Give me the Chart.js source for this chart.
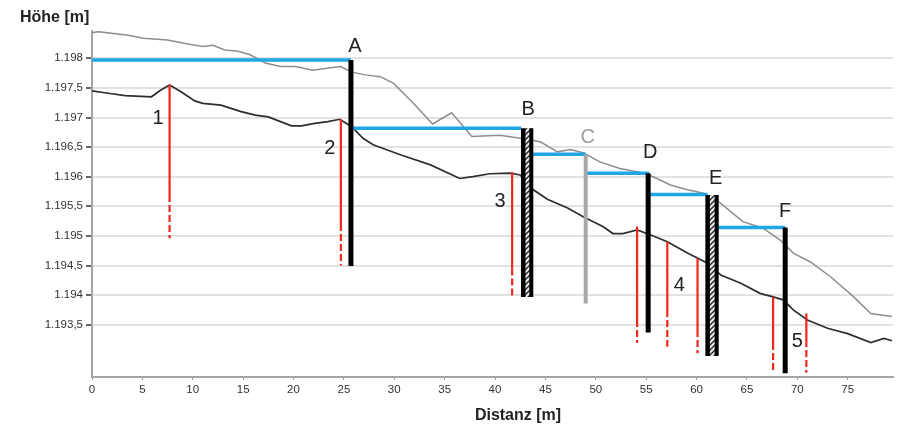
<!DOCTYPE html>
<html>
<head>
<meta charset="utf-8">
<script src="https://cdn.jsdelivr.net/npm/chart.js@4.4.1/dist/chart.umd.min.js"></script>
<style>
  body { margin: 0; background: #fff; }
  #wrap { width: 899px; height: 428px; }
</style>
</head>
<body>
<div id="wrap"><canvas id="profil" width="899" height="428"></canvas></div>
<script>
// Gelaendeoberflaeche (grau)
const greyX = [0, 0.6, 3.6, 5.1, 7.5, 9.5, 11.0, 12.0, 13.2, 14.5, 15.7, 17.2, 18.7, 20.2, 21.9, 23.7, 24.7, 25.7, 27.1, 28.6, 29.9, 31.9, 33.8, 35.7, 37.7, 40.5, 42.5, 44.5, 46.2, 47.5, 48.8, 50.4, 52.4, 54.4, 55.7, 57.4, 59.1, 60.7, 62.4, 64.6, 66.6, 68.3, 69.6, 71.3, 73.3, 75.6, 77.3, 79.4];
const greyH = [1198.43, 1198.45, 1198.39, 1198.34, 1198.31, 1198.24, 1198.20, 1198.22, 1198.14, 1198.12, 1198.06, 1197.92, 1197.86, 1197.86, 1197.80, 1197.84, 1197.86, 1197.77, 1197.72, 1197.69, 1197.58, 1197.24, 1196.89, 1197.08, 1196.68, 1196.70, 1196.65, 1196.59, 1196.42, 1196.46, 1196.40, 1196.25, 1196.14, 1196.07, 1196.00, 1195.86, 1195.78, 1195.72, 1195.55, 1195.24, 1195.13, 1194.93, 1194.71, 1194.56, 1194.31, 1193.97, 1193.69, 1193.64];

// Sohle (dunkel)
const darkX = [0, 1.6, 3.3, 5.9, 6.8, 7.7, 8.8, 10.2, 11.0, 12.8, 14.8, 16.2, 17.5, 19.8, 20.8, 22.1, 23.4, 24.6, 25.8, 26.9, 27.9, 30.6, 33.6, 36.5, 37.8, 39.5, 41.5, 42.5, 43.8, 45.2, 47.2, 48.8, 50.7, 51.7, 52.7, 54.1, 55.4, 57.1, 59.1, 61.1, 62.4, 64.4, 66.3, 67.6, 68.6, 69.6, 71.0, 73.0, 75.0, 77.3, 78.6, 79.4];
const darkH = [1197.45, 1197.41, 1197.37, 1197.35, 1197.46, 1197.55, 1197.44, 1197.28, 1197.24, 1197.21, 1197.10, 1197.04, 1197.01, 1196.86, 1196.86, 1196.90, 1196.93, 1196.97, 1196.84, 1196.65, 1196.54, 1196.37, 1196.20, 1195.97, 1196.00, 1196.05, 1196.06, 1196.03, 1195.78, 1195.62, 1195.47, 1195.32, 1195.16, 1195.04, 1195.04, 1195.10, 1195.02, 1194.90, 1194.71, 1194.54, 1194.34, 1194.20, 1194.03, 1193.97, 1193.92, 1193.75, 1193.58, 1193.44, 1193.35, 1193.20, 1193.27, 1193.23];

// Wasserspiegel (blau)
const blueX1 = [0, 25.8, 43.7, 49.0, 55.4, 62.0];
const blueX2 = [25.7, 42.6, 49.0, 55.3, 61.1, 68.8];
const blueH = [1197.97, 1196.82, 1196.38, 1196.06, 1195.70, 1195.14];

// Schwellen A, D, F
const barX = [25.7, 55.2, 68.8];
const barTop = [1197.97, 1196.06, 1195.14];
const barBottom = [1194.49, 1193.37, 1192.68];

// Schwellen B, E (schraffiert)
const hatchX1 = [42.8, 61.1];
const hatchX2 = [43.6, 62.0];
const hatchTop = [1196.82, 1195.69];
const hatchBottom = [1193.97, 1192.97];

// Schwelle C (grau)
const greyBarX = [49.0];
const greyBarTop = [1196.38];
const greyBarBottom = [1193.86];

// Kolke (rot)
const redX = [7.7, 24.7, 41.7, 54.1, 57.1, 60.1, 67.6, 70.9];
const redTop = [1197.55, 1196.97, 1196.08, 1195.16, 1194.90, 1194.62, 1193.97, 1193.69];
const redMid = [1195.69, 1195.20, 1194.45, 1193.58, 1193.75, 1193.41, 1193.19, 1193.24];
const redBottom = [1194.96, 1194.50, 1193.99, 1193.19, 1193.13, 1193.02, 1192.69, 1192.69];

// Beschriftungen
const labelText = ['1', '2', '3', '4', '5', 'A', 'B', 'C', 'D', 'E', 'F'];
const labelX = [6.55, 23.6, 40.5, 58.3, 70.0, 26.1, 43.3, 49.2, 55.4, 61.9, 68.8];
const labelY = [1196.99, 1196.47, 1195.58, 1194.17, 1193.21, 1198.2, 1197.13, 1196.67, 1196.41, 1195.97, 1195.41];
const labelGrey = ['C'];

const yTicks = [1193.5, 1194, 1194.5, 1195, 1195.5, 1196, 1196.5, 1197, 1197.5, 1198];
const xTicks = [0, 5, 10, 15, 20, 25, 30, 35, 40, 45, 50, 55, 60, 65, 70, 75];

function fmtDe(v) {
  const s = v.toFixed(1).split('.');
  const i = s[0].slice(0, s[0].length - 3) + '.' + s[0].slice(-3);
  return s[1] === '0' ? i : i + ',' + s[1];
}

// Schraffur
const pc = document.createElement('canvas');
pc.width = 5; pc.height = 5;
const pctx = pc.getContext('2d');
pctx.fillStyle = '#e6e6e6';
pctx.fillRect(0, 0, 5, 5);
pctx.strokeStyle = '#222';
pctx.lineWidth = 1.3;
pctx.beginPath();
pctx.moveTo(-1, 6); pctx.lineTo(6, -1);
pctx.moveTo(-1, 1); pctx.lineTo(1, -1);
pctx.moveTo(4, 6); pctx.lineTo(6, 4);
pctx.stroke();
const hatch = pctx.createPattern(pc, 'repeat');

function seg(data, color, width, dash) {
  return {
    data: data, showLine: true, borderColor: color, borderWidth: width,
    borderDash: dash || [], pointRadius: 0, fill: false, tension: 0
  };
}

const ds = [];
ds.push(seg(greyX.map((x, i) => ({x: x, y: greyH[i]})), '#8e8e8e', 1.5));
ds.push(seg(darkX.map((x, i) => ({x: x, y: darkH[i]})), '#2e2e2e', 1.7));
redX.forEach((x, i) => {
  ds.push(seg([{x: x, y: redTop[i]}, {x: x, y: redMid[i]}], '#f2261b', 2.2));
  ds.push(seg([{x: x, y: redMid[i]}, {x: x, y: redBottom[i]}], '#f2261b', 2.2, [7, 3]));
});
blueH.forEach((h, i) => {
  ds.push(seg([{x: blueX1[i], y: h}, {x: blueX2[i], y: h}], '#1ea7e4', 3.5));
});
greyBarX.forEach((x, i) => {
  ds.push(seg([{x: x, y: greyBarTop[i]}, {x: x, y: greyBarBottom[i]}], '#a8a8a8', 4));
});
hatchX1.forEach((x1, i) => {
  const x2 = hatchX2[i];
  ds.push({
    data: [{x: x1, y: hatchBottom[i]}, {x: x1, y: hatchTop[i]}, {x: x2, y: hatchTop[i]}, {x: x2, y: hatchBottom[i]}, {x: x1, y: hatchBottom[i]}],
    showLine: true, borderWidth: 0, borderColor: 'rgba(0,0,0,0)', backgroundColor: hatch,
    fill: 'shape', pointRadius: 0, tension: 0
  });
  ds.push(seg([{x: x1, y: hatchTop[i]}, {x: x1, y: hatchBottom[i]}], '#000', 4.5));
  ds.push(seg([{x: x2, y: hatchTop[i]}, {x: x2, y: hatchBottom[i]}], '#000', 4));
});
barX.forEach((x, i) => {
  ds.push(seg([{x: x, y: barTop[i]}, {x: x, y: barBottom[i]}], '#000', 5));
});
ds.reverse(); // erster Datensatz wird zuletzt gezeichnet

const textPlugin = {
  id: 'texte',
  afterDatasetsDraw(chart) {
    const c = chart.ctx;
    const sx = chart.scales.x, sy = chart.scales.y;
    c.save();
    c.font = '20px "Liberation Sans", Arial, sans-serif';
    c.textAlign = 'center';
    c.textBaseline = 'middle';
    labelText.forEach((t, i) => {
      c.fillStyle = labelGrey.includes(t) ? '#9a9a9a' : '#222';
      c.fillText(t, sx.getPixelForValue(labelX[i]), sy.getPixelForValue(labelY[i]));
    });
    c.font = 'bold 16px "Liberation Sans", Arial, sans-serif';
    c.fillStyle = '#222';
    c.textAlign = 'left';
    c.fillText('Höhe [m]', 20, 18);
    c.textAlign = 'center';
    c.fillText('Distanz [m]', 518, 416);
    c.restore();
  }
};

new Chart(document.getElementById('profil'), {
  type: 'scatter',
  data: { datasets: ds },
  options: {
    responsive: false,
    animation: false,
    layout: { padding: { top: 31, right: 6, left: 0, bottom: 0 } },
    plugins: { legend: { display: false }, tooltip: { enabled: false } },
    scales: {
      x: {
        type: 'linear', min: 0, max: 79.5,
        afterBuildTicks: s => { s.ticks = xTicks.map(v => ({value: v})); },
        afterFit: s => { s.height = 51; },
        border: { color: '#a4a4a4', width: 2 },
        grid: { drawOnChartArea: false, tickLength: 3, tickColor: '#999' },
        ticks: { color: '#333', padding: 3, maxRotation: 0, font: { family: '"Liberation Sans", Arial, sans-serif', size: 11.5 } }
      },
      y: {
        type: 'linear', min: 1192.617, max: 1198.461,
        afterBuildTicks: s => { s.ticks = yTicks.map(v => ({value: v})); },
        afterFit: s => { s.width = 92; },
        border: { color: '#a4a4a4', width: 2 },
        grid: { color: '#e2e2e2', lineWidth: 2, tickLength: 6, tickColor: '#666' },
        ticks: {
          color: '#333', padding: 3,
          font: { family: '"Liberation Sans", Arial, sans-serif', size: 11.5 },
          callback: v => fmtDe(v)
        }
      }
    }
  },
  plugins: [textPlugin]
});
</script>
</body>
</html>
